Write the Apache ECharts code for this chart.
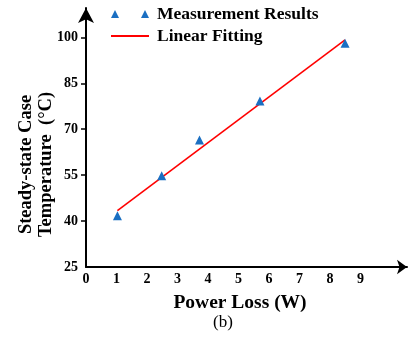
<!DOCTYPE html>
<html><head><meta charset="utf-8">
<script src="https://cdn.jsdelivr.net/npm/echarts@6/dist/echarts.min.js"></script>
<style>html,body{margin:0;padding:0;background:#fff}#c{width:408px;height:342px}</style>
</head><body><div id="c"></div>
<script>
const xTickLabels = [0,1,2,3,4,5,6,7,8,9];
const yTickLabels = [25,40,55,70,85,100];
const measuredX = [1.03, 2.48, 3.72, 5.70, 8.49];
const measuredY = [41.7, 54.8, 66.5, 79.2, 98.1];
const fitX = [1.03, 8.49];
const fitY = [43.4, 99.2];

const F = '"Liberation Serif","Times New Roman",serif';
const legendText = {fontFamily:F, fontWeight:'bold', fontSize:17.5, color:'#000', padding:[0,0,0,3]};
const chart = echarts.init(document.getElementById('c'), null, {renderer:'canvas'});
chart.setOption({
  animation:false,
  backgroundColor:'#fff',
  title:{text:'(b)', left:208, top:309, textStyle:{fontFamily:F, fontWeight:'normal', fontSize:17, color:'#000'}},
  legend:[
    {orient:'vertical', left:106, top:0, itemWidth:38, itemHeight:8, textStyle:legendText,
     data:[{name:'Measurement Results', icon:'path://M0,8 L4,0 L8,8 Z M30,8 L34,0 L38,8 Z'}]},
    {orient:'vertical', left:106, top:22, itemWidth:38, itemHeight:2, textStyle:legendText,
     data:[{name:'Linear Fitting', icon:'rect'}]}
  ],
  grid:{left:86, right:1, top:8, bottom:75, containLabel:false, outerBoundsMode:'none'},
  xAxis:{
    type:'value', min:0, max:10.52,
    name:'Power Loss (W)', nameLocation:'middle', nameGap:26, nameMoveOverlap:false,
    nameTextStyle:{fontFamily:F, fontWeight:'bold', fontSize:19.5, color:'#000', padding:[0,13,0,0]},
    axisLine:{show:true, onZero:false, lineStyle:{color:'#000', width:2}, symbol:['none','arrow'], symbolSize:[11,10]},
    axisTick:{show:false},
    splitLine:{show:false},
    axisLabel:{customValues:xTickLabels, margin:5, fontFamily:F, fontWeight:'bold', fontSize:14, color:'#000'}
  },
  yAxis:{
    type:'value', min:25, max:109.6,
    name:'Steady-state Case\nTemperature  (°C)', nameLocation:'middle', nameGap:30, nameRotate:90, nameMoveOverlap:false,
    nameTextStyle:{fontFamily:F, fontWeight:'bold', fontSize:18.5, color:'#000', lineHeight:20, padding:[0,54,0,0]},
    axisLine:{show:true, onZero:false, lineStyle:{color:'#000', width:2}, symbol:['none','arrow'], symbolSize:[12,15]},
    axisTick:{show:true, customValues:yTickLabels.slice(1), length:5, lineStyle:{color:'#000', width:1.5}},
    splitLine:{show:false},
    axisLabel:{customValues:yTickLabels, margin:8, fontFamily:F, fontWeight:'bold', fontSize:14, color:'#000'}
  },
  series:[
    {name:'Measurement Results', type:'scatter', symbol:'triangle', symbolSize:9,
     itemStyle:{color:'#1a6fc2', opacity:1}, data:measuredX.map((x,i)=>[x, measuredY[i]]), z:3},
    {name:'Linear Fitting', type:'line', symbol:'none', lineStyle:{color:'#ff0000', width:1.6},
     itemStyle:{color:'#ff0000'}, data:fitX.map((x,i)=>[x, fitY[i]]), z:2}
  ]
});
</script></body></html>
